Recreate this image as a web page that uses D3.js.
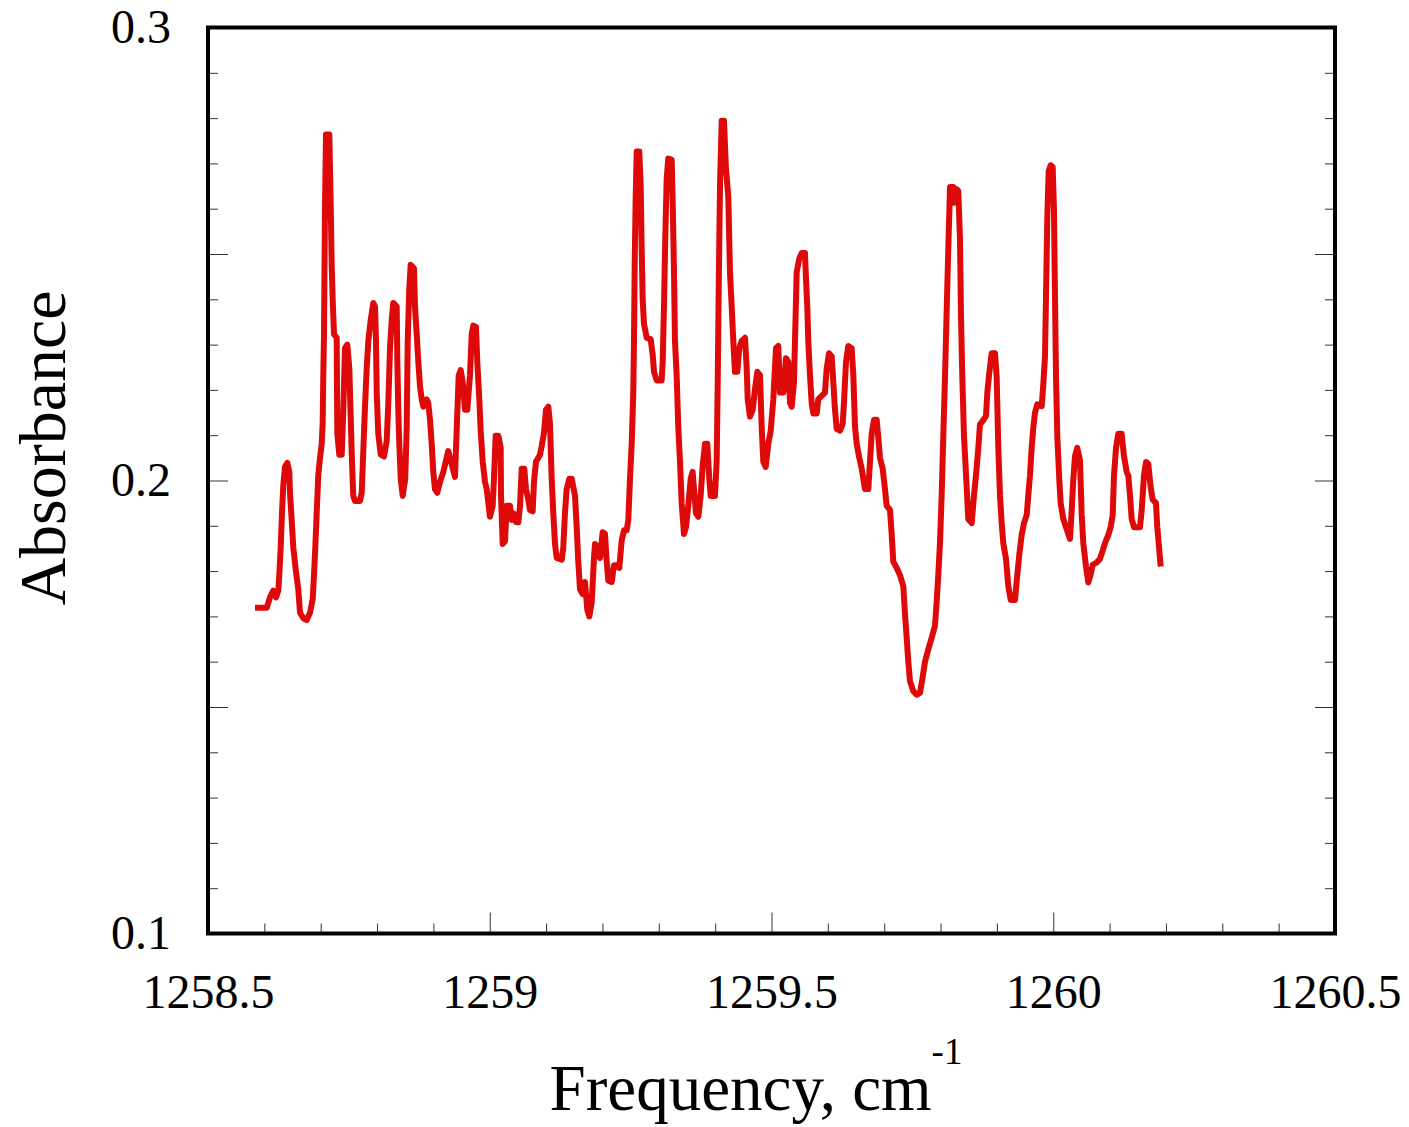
<!DOCTYPE html>
<html>
<head>
<meta charset="utf-8">
<script src="https://cdn.jsdelivr.net/npm/d3@7"></script>
<style>
  body { margin: 0; background: #fff; }
  text { font-family: "Liberation Serif", "Times New Roman", serif; fill: #000; }
</style>
</head>
<body>
<div id="chart"></div>
<script>
// spectrum
const freq = [
  1258.5834, 1258.6042, 1258.6100, 1258.6159, 1258.6207, 1258.6248, 1258.6265, 1258.6290, 1258.6313, 1258.6336,
  1258.6366, 1258.6407, 1258.6443, 1258.6455, 1258.6485, 1258.6514, 1258.6562, 1258.6602, 1258.6633, 1258.6691,
  1258.6752, 1258.6810, 1258.6858, 1258.6881, 1258.6904, 1258.6929, 1258.6957, 1258.6988, 1258.7018, 1258.7035,
  1258.7046, 1258.7059, 1258.7076, 1258.7094, 1258.7153, 1258.7177, 1258.7195, 1258.7213, 1258.7236, 1258.7284,
  1258.7289, 1258.7295, 1258.7330, 1258.7373, 1258.7401, 1258.7431, 1258.7472, 1258.7508, 1258.7532, 1258.7555,
  1258.7578, 1258.7609, 1258.7697, 1258.7728, 1258.7756, 1258.7786, 1258.7816, 1258.7845, 1258.7887, 1258.7933,
  1258.7964, 1258.7981, 1258.7994, 1258.8022, 1258.8065, 1258.8123, 1258.8171, 1258.8200, 1258.8230, 1258.8260,
  1258.8288, 1258.8349, 1258.8359, 1258.8377, 1258.8395, 1258.8420, 1258.8455, 1258.8501, 1258.8526, 1258.8544,
  1258.8572, 1258.8597, 1258.8656, 1258.8673, 1258.8704, 1258.8732, 1258.8762, 1258.8792, 1258.8821, 1258.8881,
  1258.8909, 1258.8940, 1258.8970, 1258.8998, 1258.9028, 1258.9069, 1258.9117, 1258.9176, 1258.9264, 1258.9383,
  1258.9413, 1258.9449, 1258.9484, 1258.9520, 1258.9561, 1258.9602, 1258.9649, 1258.9680, 1258.9708, 1258.9756,
  1258.9779, 1258.9815, 1258.9839, 1258.9875, 1258.9916, 1258.9946, 1259.0004, 1259.0052, 1259.0075, 1259.0105,
  1259.0152, 1259.0194, 1259.0200, 1259.0230, 1259.0271, 1259.0301, 1259.0359, 1259.0389, 1259.0418, 1259.0466,
  1259.0507, 1259.0537, 1259.0567, 1259.0613, 1259.0643, 1259.0684, 1259.0714, 1259.0762, 1259.0785, 1259.0821,
  1259.0861, 1259.0892, 1259.0922, 1259.0963, 1259.0998, 1259.1039, 1259.1069, 1259.1099, 1259.1128, 1259.1158,
  1259.1188, 1259.1277, 1259.1305, 1259.1335, 1259.1365, 1259.1412, 1259.1454, 1259.1513, 1259.1543, 1259.1571,
  1259.1602, 1259.1649, 1259.1690, 1259.1731, 1259.1767, 1259.1809, 1259.1850, 1259.1868, 1259.1926, 1259.1956,
  1259.2004, 1259.2045, 1259.2075, 1259.2104, 1259.2164, 1259.2205, 1259.2253, 1259.2299, 1259.2341, 1259.2382,
  1259.2430, 1259.2459, 1259.2489, 1259.2519, 1259.2547, 1259.2560, 1259.2572, 1259.2590, 1259.2608, 1259.2654,
  1259.2679, 1259.2696, 1259.2714, 1259.2737, 1259.2785, 1259.2856, 1259.2892, 1259.2915, 1259.2963, 1259.3051,
  1259.3069, 1259.3092, 1259.3115, 1259.3140, 1259.3168, 1259.3229, 1259.3247, 1259.3270, 1259.3287, 1259.3317,
  1259.3346, 1259.3376, 1259.3406, 1259.3447, 1259.3483, 1259.3523, 1259.3566, 1259.3601, 1259.3625, 1259.3660,
  1259.3701, 1259.3743, 1259.3779, 1259.3820, 1259.3861, 1259.3896, 1259.3921, 1259.3997, 1259.4027, 1259.4045,
  1259.4063, 1259.4086, 1259.4116, 1259.4157, 1259.4192, 1259.4233, 1259.4263, 1259.4294, 1259.4322, 1259.4352,
  1259.4393, 1259.4428, 1259.4471, 1259.4530, 1259.4560, 1259.4578, 1259.4618, 1259.4666, 1259.4707, 1259.4748,
  1259.4796, 1259.4826, 1259.4854, 1259.4897, 1259.4943, 1259.4986, 1259.5032, 1259.5080, 1259.5121, 1259.5151,
  1259.5209, 1259.5257, 1259.5298, 1259.5328, 1259.5358, 1259.5399, 1259.5417, 1259.5447, 1259.5493, 1259.5536,
  1259.5594, 1259.5612, 1259.5635, 1259.5653, 1259.5683, 1259.5713, 1259.5742, 1259.5802, 1259.5830, 1259.5891,
  1259.5949, 1259.5979, 1259.6020, 1259.6068, 1259.6097, 1259.6127, 1259.6157, 1259.6215, 1259.6263, 1259.6286,
  1259.6322, 1259.6363, 1259.6423, 1259.6452, 1259.6482, 1259.6512, 1259.6558, 1259.6601, 1259.6659, 1259.6718,
  1259.6748, 1259.6778, 1259.6819, 1259.6867, 1259.6895, 1259.6925, 1259.6973, 1259.7014, 1259.7044, 1259.7103,
  1259.7133, 1259.7161, 1259.7222, 1259.7280, 1259.7339, 1259.7369, 1259.7399, 1259.7428, 1259.7458, 1259.7516,
  1259.7577, 1259.7635, 1259.7683, 1259.7724, 1259.7782, 1259.7843, 1259.7901, 1259.7931, 1259.7960, 1259.7990,
  1259.8020, 1259.8049, 1259.8079, 1259.8109, 1259.8137, 1259.8168, 1259.8226, 1259.8244, 1259.8287, 1259.8315,
  1259.8345, 1259.8363, 1259.8386, 1259.8416, 1259.8464, 1259.8492, 1259.8553, 1259.8593, 1259.8629, 1259.8670,
  1259.8700, 1259.8758, 1259.8806, 1259.8830, 1259.8865, 1259.8908, 1259.8966, 1259.8996, 1259.9025, 1259.9055,
  1259.9085, 1259.9113, 1259.9161, 1259.9202, 1259.9245, 1259.9321, 1259.9362, 1259.9397, 1259.9440, 1259.9481,
  1259.9529, 1259.9557, 1259.9587, 1259.9617, 1259.9646, 1259.9676, 1259.9717, 1259.9795, 1259.9823, 1259.9853,
  1259.9871, 1259.9894, 1259.9919, 1259.9954, 1259.9990, 1260.0013, 1260.0031, 1260.0049, 1260.0072, 1260.0107,
  1260.0132, 1260.0178, 1260.0226, 1260.0297, 1260.0327, 1260.0356, 1260.0386, 1260.0426, 1260.0474, 1260.0505,
  1260.0533, 1260.0581, 1260.0622, 1260.0664, 1260.0700, 1260.0771, 1260.0829, 1260.0877, 1260.0918, 1260.0977,
  1260.1019, 1260.1055, 1260.1078, 1260.1114, 1260.1154, 1260.1214, 1260.1255, 1260.1303, 1260.1332, 1260.1362,
  1260.1392, 1260.1433, 1260.1539, 1260.1569, 1260.1610, 1260.1646, 1260.1686, 1260.1729, 1260.1764, 1260.1823,
  1260.1846, 1260.1871, 1260.1906
];
const absorbance = [
  0.1719, 0.1719, 0.1742, 0.1757, 0.1742, 0.1757, 0.1791, 0.1852, 0.1928, 0.1989,
  0.2030, 0.2039, 0.2019, 0.1973, 0.1913, 0.1852, 0.1798, 0.1760, 0.1708, 0.1696,
  0.1692, 0.1708, 0.1738, 0.1791, 0.1852, 0.1928, 0.2012, 0.2050, 0.2081, 0.2125,
  0.2232, 0.2323, 0.2604, 0.2764, 0.2764, 0.2613, 0.2476, 0.2398, 0.2323, 0.2315,
  0.2209, 0.2103, 0.2057, 0.2057, 0.2156, 0.2292, 0.2300, 0.2247, 0.2141, 0.2042,
  0.1966, 0.1955, 0.1955, 0.1973, 0.2065, 0.2163, 0.2247, 0.2308, 0.2354, 0.2392,
  0.2384, 0.2308, 0.2194, 0.2103, 0.2057, 0.2053, 0.2087, 0.2171, 0.2292, 0.2354,
  0.2392, 0.2384, 0.2270, 0.2156, 0.2081, 0.2004, 0.1966, 0.2004, 0.2118, 0.2308,
  0.2423, 0.2476, 0.2468, 0.2384, 0.2323, 0.2262, 0.2209, 0.2179, 0.2163, 0.2179,
  0.2171, 0.2134, 0.2081, 0.2019, 0.1981, 0.1973, 0.1997, 0.2019, 0.2065, 0.2008,
  0.2110, 0.2232, 0.2244, 0.2217, 0.2156, 0.2156, 0.2232, 0.2323, 0.2342, 0.2339,
  0.2262, 0.2179, 0.2110, 0.2042, 0.1997, 0.1981, 0.1920, 0.1944, 0.2004, 0.2099,
  0.2099, 0.2072, 0.1966, 0.1860, 0.1866, 0.1944, 0.1944, 0.1913, 0.1928, 0.1908,
  0.1908, 0.1944, 0.2026, 0.2026, 0.1981, 0.1958, 0.1935, 0.1932, 0.1997, 0.2042,
  0.2050, 0.2057, 0.2076, 0.2106, 0.2156, 0.2163, 0.2125, 0.2004, 0.1928, 0.1860,
  0.1829, 0.1825, 0.1852, 0.1928, 0.1981, 0.2004, 0.2004, 0.1966, 0.1897, 0.1821,
  0.1760, 0.1749, 0.1776, 0.1715, 0.1700, 0.1730, 0.1829, 0.1860, 0.1852, 0.1829,
  0.1886, 0.1882, 0.1821, 0.1779, 0.1776, 0.1813, 0.1813, 0.1807, 0.1867, 0.1890,
  0.1890, 0.1913, 0.2004, 0.2081, 0.2194, 0.2308, 0.2476, 0.2627, 0.2726, 0.2726,
  0.2650, 0.2513, 0.2399, 0.2346, 0.2315, 0.2312, 0.2277, 0.2240, 0.2221, 0.2221,
  0.2262, 0.2384, 0.2536, 0.2666, 0.2711, 0.2708, 0.2613, 0.2460, 0.2308, 0.2232,
  0.2118, 0.2042, 0.1950, 0.1882, 0.1897, 0.1944, 0.2004, 0.2019, 0.1981, 0.1928,
  0.1920, 0.1966, 0.2034, 0.2081, 0.2081, 0.2004, 0.1966, 0.1966, 0.2042, 0.2209,
  0.2423, 0.2650, 0.2794, 0.2794, 0.2688, 0.2627, 0.2460, 0.2384, 0.2308, 0.2240,
  0.2240, 0.2292, 0.2308, 0.2315, 0.2247, 0.2179, 0.2141, 0.2156, 0.2202, 0.2240,
  0.2232, 0.2118, 0.2042, 0.2030, 0.2081, 0.2110, 0.2179, 0.2292, 0.2297, 0.2194,
  0.2194, 0.2270, 0.2262, 0.2171, 0.2163, 0.2217, 0.2308, 0.2460, 0.2490, 0.2502,
  0.2502, 0.2445, 0.2384, 0.2308, 0.2232, 0.2171, 0.2148, 0.2148, 0.2179, 0.2187,
  0.2194, 0.2247, 0.2281, 0.2274, 0.2217, 0.2156, 0.2114, 0.2110, 0.2125, 0.2171,
  0.2262, 0.2297, 0.2292, 0.2232, 0.2118, 0.2081, 0.2050, 0.2026, 0.1981, 0.1981,
  0.2042, 0.2103, 0.2134, 0.2134, 0.2095, 0.2050, 0.2026, 0.1981, 0.1944, 0.1935,
  0.1882, 0.1821, 0.1807, 0.1791, 0.1767, 0.1705, 0.1653, 0.1600, 0.1557, 0.1535,
  0.1527, 0.1531, 0.1566, 0.1600, 0.1627, 0.1653, 0.1679, 0.1732, 0.1792, 0.1862,
  0.1968, 0.2098, 0.2229, 0.2377, 0.2509, 0.2648, 0.2648, 0.2613, 0.2643, 0.2639,
  0.2534, 0.2360, 0.2229, 0.2098, 0.1985, 0.1915, 0.1906, 0.1967, 0.2011, 0.2072,
  0.2124, 0.2133, 0.2142, 0.2194, 0.2238, 0.2281, 0.2281, 0.2229, 0.2072, 0.1967,
  0.1906, 0.1862, 0.1827, 0.1767, 0.1736, 0.1736, 0.1792, 0.1836, 0.1880, 0.1906,
  0.1924, 0.1967, 0.2011, 0.2072, 0.2116, 0.2150, 0.2168, 0.2164, 0.2211, 0.2273,
  0.2404, 0.2578, 0.2683, 0.2696, 0.2692, 0.2596, 0.2404, 0.2229, 0.2098, 0.2002,
  0.1950, 0.1915, 0.1897, 0.1871, 0.1933, 0.2002, 0.2054, 0.2072, 0.2045, 0.1924,
  0.1862, 0.1810, 0.1775, 0.1792, 0.1814, 0.1819, 0.1827, 0.1845, 0.1862, 0.1880,
  0.1897, 0.1924, 0.2011, 0.2072, 0.2103, 0.2103, 0.2054, 0.2019, 0.2011, 0.1967,
  0.1915, 0.1897, 0.1897, 0.1933, 0.2011, 0.2041, 0.2037, 0.1985, 0.1958, 0.1950,
  0.1897, 0.1862, 0.1810
];

const xMajorTicks = [1258.5, 1259, 1259.5, 1260, 1260.5];
const xTickLabels = ['1258.5', '1259', '1259.5', '1260', '1260.5'];
const yMajorTicks = [0.1, 0.15, 0.2, 0.25, 0.3];
const yLabelTicks = [0.1, 0.2, 0.3];
const yTickLabels = ['0.1', '0.2', '0.3'];

const width = 1409, height = 1127;
const margin = { top: 27.5, right: 74, bottom: 193.5, left: 208 };
const plotW = width - margin.left - margin.right;
const plotH = height - margin.top - margin.bottom;

const x = d3.scaleLinear().domain([1258.5, 1260.5]).range([0, plotW]);
const y = d3.scaleLinear().domain([0.1, 0.3]).range([plotH, 0]);

const svg = d3.select('#chart').append('svg')
  .attr('width', width)
  .attr('height', height);

const g = svg.append('g')
  .attr('transform', `translate(${margin.left},${margin.top})`);

const xMinor = d3.range(1258.6, 1260.45, 0.1).filter(v => Math.abs(v * 2 - Math.round(v * 2)) > 0.01);
const yMinor = d3.range(0.11, 0.295, 0.01).filter(v => Math.abs(v * 20 - Math.round(v * 20)) > 0.01);

// minor ticks (bottom, left, right), pointing inward
g.append('g').attr('transform', `translate(0,${plotH})`)
  .call(d3.axisBottom(x).tickValues(xMinor).tickSize(-10).tickFormat(''));
g.append('g')
  .call(d3.axisLeft(y).tickValues(yMinor).tickSize(-10).tickFormat(''));
g.append('g').attr('transform', `translate(${plotW},0)`)
  .call(d3.axisRight(y).tickValues(yMinor).tickSize(-10).tickFormat(''));

// major ticks
g.append('g').attr('transform', `translate(0,${plotH})`)
  .call(d3.axisBottom(x).tickValues(xMajorTicks).tickSize(-21).tickPadding(40)
    .tickFormat((d, i) => xTickLabels[i]));
g.append('g')
  .call(d3.axisLeft(y).tickValues(yMajorTicks).tickSize(-20).tickPadding(37)
    .tickFormat(d => {
      const i = yLabelTicks.findIndex(v => Math.abs(v - d) < 1e-6);
      return i >= 0 ? yTickLabels[i] : '';
    }));
g.append('g').attr('transform', `translate(${plotW},0)`)
  .call(d3.axisRight(y).tickValues(yMajorTicks).tickSize(-20).tickFormat(''));

g.selectAll('.domain').remove();
g.selectAll('.tick line').attr('stroke', '#333').attr('stroke-width', 1);
g.selectAll('.tick text')
  .style('font-family', '"Liberation Serif", "Times New Roman", serif')
  .style('font-size', '48px')
  .attr('fill', '#000');

// the spectrum
const pts = freq.map((f, i) => [f, absorbance[i]]);
const line = d3.line().x(d => x(d[0])).y(d => y(d[1]));
g.append('path')
  .datum(pts)
  .attr('d', line)
  .attr('fill', 'none')
  .attr('stroke', '#de0a0a')
  .attr('stroke-width', 6)
  .attr('stroke-linejoin', 'round');

// frame
g.append('rect')
  .attr('x', 0).attr('y', 0)
  .attr('width', plotW).attr('height', plotH)
  .attr('fill', 'none')
  .attr('stroke', '#000')
  .attr('stroke-width', 4);

// axis titles
svg.append('text')
  .attr('transform', 'translate(65,448) rotate(-90)')
  .attr('text-anchor', 'middle')
  .style('font-size', '66px')
  .text('Absorbance');

const xt = svg.append('text')
  .attr('x', 756).attr('y', 1110)
  .attr('text-anchor', 'middle')
  .style('font-size', '65px');
xt.append('tspan').text('Frequency, cm');
xt.append('tspan').attr('dy', -46).style('font-size', '37px').text('-1');
</script>
</body>
</html>
